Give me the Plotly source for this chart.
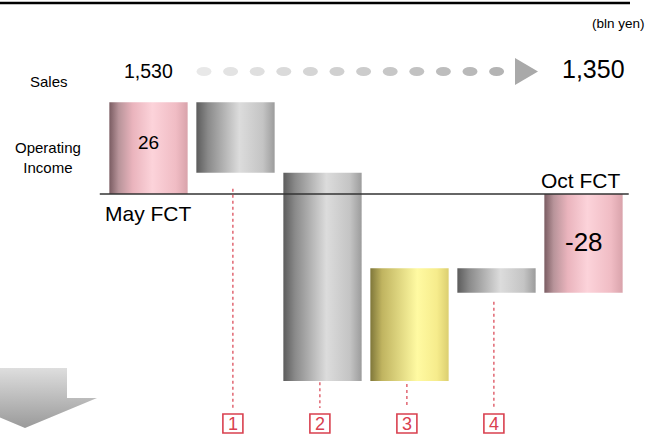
import plotly.graph_objects as go
import numpy as np

# ---------------- data ----------------
categories = ["May FCT", "1", "2", "3", "4", "Oct FCT"]
start_value = 26
changes = [-20, -59, 32, -7]
end_value = -28
bar_kinds = ["total", "gray", "gray", "yellow", "gray", "total"]
sales_start = "1,530"
sales_end = "1,350"
step_numbers = ["1", "2", "3", "4"]

# ---------------- styling ----------------
W, H = 655, 434
FONT = "Arial, Liberation Sans, sans-serif"
GRAD = {
    "total": [[0, "#7a5c62"], [0.12, "#b8949a"], [0.3, "#eab4bd"], [0.55, "#fcd3da"], [0.85, "#f0bcc4"], [1, "#d9a3ab"]],
    "gray": [[0, "#5c5c5c"], [0.15, "#8a8a8a"], [0.55, "#dcdcdc"], [0.85, "#c4c4c4"], [1, "#9c9c9c"]],
    "yellow": [[0, "#7f773a"], [0.15, "#c0b460"], [0.6, "#fffaa2"], [0.85, "#f6ec8c"], [1, "#dccf70"]],
}
BAR_W = 0.9
PX_PER_X = 87.0
X0_PX = 148.5
ZERO_PX = 194.0
PX_PER_Y = 3.53

# ---------------- build bars ----------------
lows, highs = [], []
lows.append(min(0, start_value)); highs.append(max(0, start_value))
level = start_value
for c in changes:
    new = level + c
    lows.append(min(level, new)); highs.append(max(level, new))
    level = new
lows.append(min(0, end_value)); highs.append(max(0, end_value))

fig = go.Figure()
for i, (lo, hi, kind) in enumerate(zip(lows, highs, bar_kinds)):
    xl, xr = i - BAR_W / 2, i + BAR_W / 2
    fig.add_trace(go.Scatter(
        x=[xl, xr, xr, xl, xl], y=[lo, lo, hi, hi, lo],
        mode="lines", fill="toself", line=dict(width=0, color="rgba(0,0,0,0)"),
        fillgradient=dict(type="horizontal", colorscale=GRAD[kind], start=xl, stop=xr),
        hoverinfo="skip", showlegend=False, xaxis="x", yaxis="y"))

xr_min = -X0_PX / PX_PER_X
xr_max = (W - X0_PX) / PX_PER_X
yr_max = ZERO_PX / PX_PER_Y
yr_min = -(H - ZERO_PX) / PX_PER_Y

def py2y(py):
    return -(py - ZERO_PX) / PX_PER_Y

# ---------------- decoration in pixel axes ----------------
# big down arrow bottom-left
ax_ = [0, 67, 67, 97, 25, 0, 0]
ay_ = [368, 368, 398, 398, 428, 417.6, 368]
fig.add_trace(go.Scatter(
    x=ax_, y=ay_, mode="lines", fill="toself", line=dict(width=0, color="rgba(0,0,0,0)"),
    fillgradient=dict(type="vertical", colorscale=[[0, "#dedede"], [1, "#9a9a9a"]], start=368, stop=428),
    hoverinfo="skip", showlegend=False, xaxis="x2", yaxis="y2"))

# triangle of the sales arrow
fig.add_trace(go.Scatter(
    x=[515, 538, 515, 515], y=[58, 71.5, 85, 58], mode="lines", fill="toself",
    line=dict(width=0, color="rgba(0,0,0,0)"), fillcolor="#a9a9a9",
    hoverinfo="skip", showlegend=False, xaxis="x2", yaxis="y2"))

shapes = []
# dots
n_dots = 12
for k in range(n_dots):
    cx = 204 + k * 26.6
    g = int(round(232 - (232 - 180) * k / (n_dots - 1)))
    col = f"rgb({g},{g},{g})"
    shapes.append(dict(type="circle", xref="x2", yref="y2", x0=cx - 7.5, x1=cx + 7.5,
                       y0=67, y1=76, fillcolor=col, line=dict(width=0), layer="above"))

# top rule
shapes.append(dict(type="line", xref="x2", yref="y2", x0=0, x1=630, y0=3, y1=3,
                   line=dict(color="black", width=2.5)))
# zero line
shapes.append(dict(type="line", xref="x", yref="y", x0=-0.56, x1=5.52, y0=0, y1=0,
                   line=dict(color="#333333", width=1.5), layer="above"))

# dotted red lines and numbered boxes
gaps = [4.5, 0.3, 0.8, 2.5]
line_end = py2y(408)
box_top, box_bot = py2y(414), py2y(433)
for j, num in enumerate(step_numbers):
    i = j + 1
    xc = i - 0.03
    shapes.append(dict(type="line", xref="x", yref="y", x0=xc, x1=xc,
                       y0=lows[i] - gaps[j], y1=line_end,
                       line=dict(color="#d9404f", width=1.2, dash="dot")))
    shapes.append(dict(type="rect", xref="x", yref="y", x0=xc - 0.115, x1=xc + 0.115,
                       y0=box_bot, y1=box_top, fillcolor="white",
                       line=dict(color="#d9404f", width=1.6)))

fig.update_layout(shapes=shapes)

ann = []
def txt(x, y, s, size, xanchor="center", ref=("x2", "y2"), color="black"):
    ann.append(dict(x=x, y=y, xref=ref[0], yref=ref[1], text=s, showarrow=False,
                    xanchor=xanchor, yanchor="middle", font=dict(family=FONT, size=size, color=color)))

txt(647, 23, "(bln yen)", 13.5, xanchor="right")
txt(49, 81, "Sales", 15)
txt(48, 157, "Operating<br>Income", 15)
txt(148, 71, sales_start, 19.5)
txt(593, 69, sales_end, 25)
txt(0, start_value / 2 + 1.5, str(start_value), 19, ref=("x", "y"))
txt(0, py2y(213), categories[0], 21, ref=("x", "y"))
txt(5 - 0.03, py2y(180), categories[5], 21, ref=("x", "y"))
txt(5, end_value / 2 + 0.5, str(end_value), 26, ref=("x", "y"))
for j, num in enumerate(step_numbers):
    txt(j + 1 - 0.03, (box_top + box_bot) / 2 - 0.1, num, 18, ref=("x", "y"), color="#d9404f")

fig.update_layout(
    annotations=ann,
    width=W, height=H, margin=dict(l=0, r=0, t=0, b=0),
    paper_bgcolor="white", plot_bgcolor="white",
    showlegend=False,
    xaxis=dict(range=[xr_min, xr_max], visible=False, fixedrange=True),
    yaxis=dict(range=[yr_min, yr_max], visible=False, fixedrange=True),
    xaxis2=dict(range=[0, W], visible=False, overlaying="x", fixedrange=True),
    yaxis2=dict(range=[H, 0], visible=False, overlaying="y", fixedrange=True),
)

fig.write_html("out.html")
